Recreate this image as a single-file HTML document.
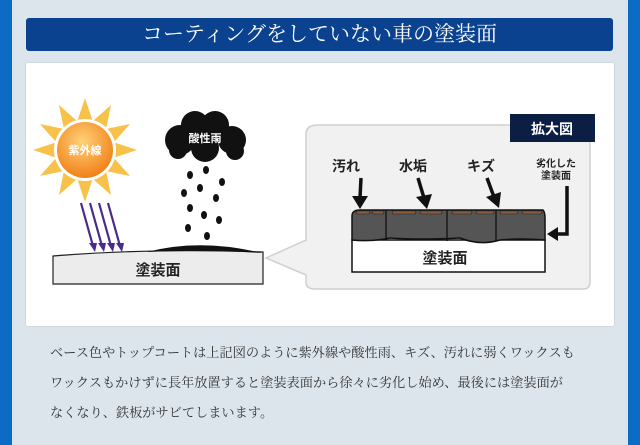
<!DOCTYPE html>
<html><head><meta charset="utf-8"><style>
body{margin:0;width:640px;height:445px;overflow:hidden;background:#0a6cc4;font-family:"Liberation Serif","Noto Serif CJK JP",serif;}
#wrap{position:absolute;left:12px;top:0;width:616px;height:445px;background:#dce5ec;}
#title{position:absolute;left:14px;top:18px;width:587px;height:33px;background:#0a428f;border-radius:3px;color:#fff;font-size:21px;text-align:center;line-height:33px;}
#panel{position:absolute;left:13px;top:62px;width:588px;height:263px;background:#fff;border:1px solid #cfd8df;border-radius:3px;}
#txt{position:absolute;left:38px;top:338px;font-size:13.2px;line-height:30px;color:#333;white-space:nowrap;}
</style></head><body>
<div id="wrap">
<div id="title">コーティングをしていない車の塗装面</div>
<div id="panel"></div>
<div id="txt">ベース色やトップコートは上記図のように紫外線や酸性雨、キズ、汚れに弱くワックスも<br>ワックスもかけずに長年放置すると塗装表面から徐々に劣化し始め、最後には塗装面が<br>なくなり、鉄板がサビてしまいます。</div>
</div>
<svg width="640" height="445" style="position:absolute;left:0;top:0" font-family="Liberation Sans,Noto Sans CJK JP,sans-serif">
<defs><radialGradient id="sg" cx="0.45" cy="0.35" r="0.7"><stop offset="0" stop-color="#ffd27a"/><stop offset="1" stop-color="#f07a10"/></radialGradient></defs>
<g transform="translate(85,150)">
<g fill="#f8c24a">
<polygon points="-8,-28 0,-52 8,-28"/><polygon points="-8,-28 0,-52 8,-28" transform="rotate(30)"/><polygon points="-8,-28 0,-52 8,-28" transform="rotate(60)"/><polygon points="-8,-28 0,-52 8,-28" transform="rotate(90)"/><polygon points="-8,-28 0,-52 8,-28" transform="rotate(120)"/><polygon points="-8,-28 0,-52 8,-28" transform="rotate(150)"/><polygon points="-8,-28 0,-52 8,-28" transform="rotate(180)"/><polygon points="-8,-28 0,-52 8,-28" transform="rotate(210)"/><polygon points="-8,-28 0,-52 8,-28" transform="rotate(240)"/><polygon points="-8,-28 0,-52 8,-28" transform="rotate(270)"/><polygon points="-8,-28 0,-52 8,-28" transform="rotate(300)"/><polygon points="-8,-28 0,-52 8,-28" transform="rotate(330)"/>
</g>
<circle r="31" fill="#fff"/><circle r="28" fill="url(#sg)"/>
<text y="4" text-anchor="middle" font-size="11" font-weight="bold" fill="#fff">紫外線</text>
</g>
<g stroke="#4a2a8a" stroke-width="2.2" fill="#4a2a8a">
<line x1="81" y1="203" x2="93" y2="246"/><line x1="90" y1="203" x2="102" y2="246"/><line x1="99" y1="203" x2="111" y2="246"/><line x1="108" y1="203" x2="120" y2="246"/>
<polygon points="89,243 97,243 95,252" stroke="none"/><polygon points="98,243 106,243 104,252" stroke="none"/><polygon points="107,243 115,243 113,252" stroke="none"/><polygon points="116,243 124,243 122,252" stroke="none"/>
</g>
<g fill="#111">
<circle cx="180" cy="140" r="15"/><circle cx="195" cy="125" r="14"/><circle cx="215" cy="125" r="14"/><circle cx="232" cy="140" r="14"/><circle cx="205" cy="148" r="14"/><circle cx="178" cy="150" r="9"/><circle cx="235" cy="151" r="9"/>
</g>
<text x="205" y="142" text-anchor="middle" font-size="11" font-weight="bold" fill="#fff">酸性雨</text>
<g fill="#111">
<ellipse cx="190" cy="175" rx="3" ry="4"/><ellipse cx="206" cy="170" rx="3" ry="4"/><ellipse cx="184" cy="193" rx="3" ry="4"/><ellipse cx="200" cy="188" rx="3" ry="4"/><ellipse cx="222" cy="182" rx="3" ry="4"/><ellipse cx="216" cy="198" rx="3" ry="4"/><ellipse cx="190" cy="208" rx="3" ry="4"/><ellipse cx="204" cy="215" rx="3" ry="4"/><ellipse cx="219" cy="220" rx="3" ry="4"/><ellipse cx="188" cy="228" rx="3" ry="4"/><ellipse cx="207" cy="236" rx="3" ry="4"/>
</g>
<path d="M53,256 Q150,248 263,252 L263,284 L53,284 Z" fill="#ececec" stroke="#222" stroke-width="1.2"/>
<path d="M147,252 Q200,238 262,253 Q200,249 147,252 Z" fill="#111"/>
<text x="158" y="275" text-anchor="middle" font-size="15" font-weight="bold" fill="#222">塗装面</text>
<path d="M318,125 H583 Q590,125 590,132 V282 Q590,289 583,289 H315 Q306,289 306,282 V275 L266,258 L306,240 V134 Q306,125 318,125 Z" fill="#f1f1f1" stroke="#cfcfcf" stroke-width="1.5"/>
<rect x="510" y="114" width="85" height="28" fill="#0d1e45"/>
<text x="552" y="134" text-anchor="middle" font-size="14" font-weight="bold" fill="#fff">拡大図</text>
<g font-size="14" font-weight="bold" fill="#222" text-anchor="middle">
<text x="346" y="171">汚れ</text><text x="413" y="171">水垢</text><text x="481" y="171">キズ</text>
<text x="556" y="167" font-size="10">劣化した</text><text x="556" y="179" font-size="10">塗装面</text>
</g>
<rect x="352" y="240" width="193" height="32" fill="#fff" stroke="#111" stroke-width="1.5"/>
<text x="445" y="263" text-anchor="middle" font-size="15" font-weight="bold" fill="#222">塗装面</text>
<path d="M352,216 Q352,210 360,210 H543 Q545,212 545,218 V240 Q520,238 500,240 Q480,246 460,238 Q420,240 390,238 Q370,242 352,240 Z" fill="#555" stroke="#111" stroke-width="1.5"/>
<g stroke="#111" stroke-width="1.3"><line x1="386" y1="210" x2="386" y2="240"/><line x1="447" y1="210" x2="447" y2="241"/><line x1="496" y1="210" x2="496" y2="241"/></g>
<g fill="#8b5a3a" stroke="#222" stroke-width="0.6">
<rect x="356" y="211" width="14" height="3" rx="1.5"/><rect x="372" y="211" width="12" height="3" rx="1.5"/><rect x="392" y="211" width="24" height="3" rx="1.5"/><rect x="420" y="211" width="22" height="3" rx="1.5"/><rect x="452" y="211" width="20" height="3" rx="1.5"/><rect x="476" y="211" width="18" height="3" rx="1.5"/><rect x="500" y="211" width="18" height="3" rx="1.5"/><rect x="522" y="211" width="20" height="3" rx="1.5"/>
</g>
<g stroke="#111" stroke-width="3.5" fill="#111">
<line x1="361" y1="178" x2="360" y2="198"/><polygon points="352,196 368,196 360,209" stroke="none"/>
<line x1="418" y1="178" x2="424" y2="198"/><polygon points="416,197 432,194 427,209" stroke="none"/>
<line x1="487" y1="178" x2="494" y2="197"/><polygon points="486,197 501,192 499,208" stroke="none"/>
<polyline points="567,186 567,234 556,234" fill="none"/><polygon points="558,227 558,241 547,234" stroke="none"/>
</g>
</svg>
</body></html>
